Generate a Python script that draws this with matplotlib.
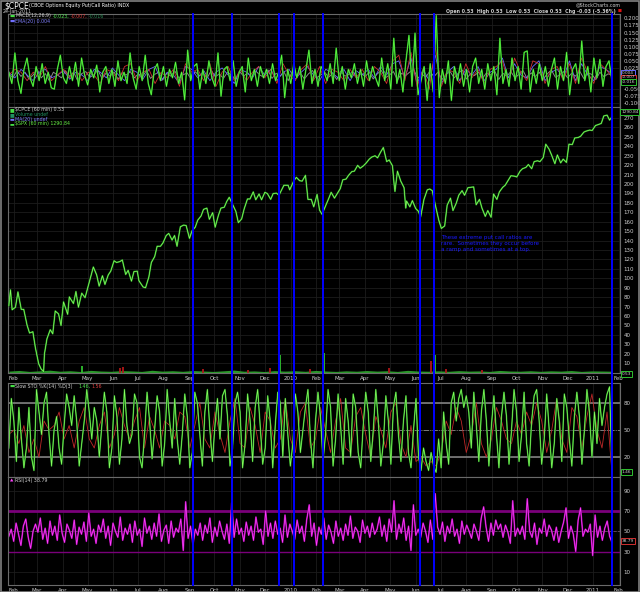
import matplotlib
matplotlib.use("Agg")
import matplotlib.pyplot as plt
import matplotlib.dates as mdates
import matplotlib.ticker as mticker
import matplotlib.transforms as mtransforms
from matplotlib.lines import Line2D
import pandas as pd

W, H = 640, 592

# ---------------- data ----------------
spx_dates = ['2009-01-26', '2009-01-28', '2009-01-30', '2009-02-03', '2009-02-06', '2009-02-10', '2009-02-13',
             '2009-02-17', '2009-02-20', '2009-02-24', '2009-02-27', '2009-03-03', '2009-03-06', '2009-03-09',
             '2009-03-10', '2009-03-13', '2009-03-17', '2009-03-20', '2009-03-23', '2009-03-27', '2009-03-30',
             '2009-04-02', '2009-04-07', '2009-04-09', '2009-04-14', '2009-04-17', '2009-04-20', '2009-04-24',
             '2009-04-28', '2009-05-01', '2009-05-05', '2009-05-08', '2009-05-12', '2009-05-15', '2009-05-19',
             '2009-05-22', '2009-05-26', '2009-05-29', '2009-06-02', '2009-06-05', '2009-06-09', '2009-06-12',
             '2009-06-16', '2009-06-19', '2009-06-23', '2009-06-26', '2009-06-30', '2009-07-02', '2009-07-07',
             '2009-07-10', '2009-07-14', '2009-07-17', '2009-07-21', '2009-07-24', '2009-07-28', '2009-07-31',
             '2009-08-04', '2009-08-07', '2009-08-11', '2009-08-14', '2009-08-17', '2009-08-21', '2009-08-25',
             '2009-08-28', '2009-09-01', '2009-09-04', '2009-09-08', '2009-09-11', '2009-09-15', '2009-09-18',
             '2009-09-22', '2009-09-25', '2009-09-29', '2009-10-02', '2009-10-06', '2009-10-09', '2009-10-13',
             '2009-10-16', '2009-10-19', '2009-10-23', '2009-10-27', '2009-10-30', '2009-11-03', '2009-11-06',
             '2009-11-10', '2009-11-13', '2009-11-17', '2009-11-20', '2009-11-24', '2009-11-27', '2009-12-01',
             '2009-12-04', '2009-12-08', '2009-12-11', '2009-12-15', '2009-12-18', '2009-12-22', '2009-12-24',
             '2009-12-29', '2009-12-31', '2010-01-05', '2010-01-08', '2010-01-12', '2010-01-15', '2010-01-19',
             '2010-01-22', '2010-01-26', '2010-01-29', '2010-02-02', '2010-02-05', '2010-02-08', '2010-02-12',
             '2010-02-16', '2010-02-19', '2010-02-23', '2010-02-26', '2010-03-02', '2010-03-05', '2010-03-09',
             '2010-03-12', '2010-03-16', '2010-03-19', '2010-03-23', '2010-03-26', '2010-03-30', '2010-04-02',
             '2010-04-06', '2010-04-09', '2010-04-13', '2010-04-16', '2010-04-20', '2010-04-23', '2010-04-27',
             '2010-04-30', '2010-05-04', '2010-05-06', '2010-05-07', '2010-05-10', '2010-05-14', '2010-05-18',
             '2010-05-20', '2010-05-21', '2010-05-25', '2010-05-28', '2010-06-01', '2010-06-04', '2010-06-07',
             '2010-06-11', '2010-06-15', '2010-06-18', '2010-06-21', '2010-06-25', '2010-06-29', '2010-07-02',
             '2010-07-06', '2010-07-09', '2010-07-13', '2010-07-16', '2010-07-20', '2010-07-23', '2010-07-27',
             '2010-07-30', '2010-08-03', '2010-08-06', '2010-08-10', '2010-08-13', '2010-08-17', '2010-08-20',
             '2010-08-24', '2010-08-27', '2010-08-31', '2010-09-03', '2010-09-07', '2010-09-10', '2010-09-14',
             '2010-09-17', '2010-09-21', '2010-09-24', '2010-09-28', '2010-10-01', '2010-10-05', '2010-10-08',
             '2010-10-12', '2010-10-15', '2010-10-19', '2010-10-22', '2010-10-26', '2010-10-29', '2010-11-02',
             '2010-11-05', '2010-11-09', '2010-11-12', '2010-11-16', '2010-11-19', '2010-11-23', '2010-11-26',
             '2010-11-30', '2010-12-03', '2010-12-07', '2010-12-10', '2010-12-14', '2010-12-17', '2010-12-21',
             '2010-12-23', '2010-12-28', '2010-12-31', '2011-01-04', '2011-01-07', '2011-01-11', '2011-01-14',
             '2011-01-18', '2011-01-21', '2011-01-24']
spx_close = [836, 874, 826, 832, 869, 827, 827, 789, 770, 773, 735, 696, 683, 677,
             720, 756, 778, 768, 823, 816, 788, 845, 815, 857, 841, 870, 832, 866,
             855, 877, 906, 929, 910, 883, 908, 887, 910, 919, 944, 940, 942, 946,
             911, 921, 895, 918, 919, 896, 881, 879, 905, 940, 954, 979, 979, 987,
             1005, 1010, 994, 1005, 979, 1026, 1030, 1029, 998, 1016, 1025, 1042, 1052, 1068,
             1071, 1044, 1060, 1025, 1054, 1071, 1073, 1087, 1097, 1080, 1063, 1036, 1045, 1069,
             1093, 1093, 1110, 1091, 1105, 1091, 1109, 1106, 1092, 1106, 1107, 1102, 1118, 1126,
             1126, 1115, 1137, 1145, 1137, 1136, 1150, 1092, 1092, 1074, 1104, 1066, 1056, 1075,
             1094, 1109, 1095, 1105, 1118, 1139, 1141, 1150, 1159, 1160, 1174, 1167, 1173, 1179,
             1189, 1194, 1197, 1192, 1207, 1217, 1183, 1187, 1173, 1128, 1111, 1160, 1136, 1120,
             1071, 1088, 1074, 1089, 1070, 1064, 1050, 1092, 1115, 1117, 1113, 1076, 1041, 1022,
             1028, 1078, 1095, 1065, 1083, 1102, 1113, 1102, 1120, 1121, 1122, 1079, 1092, 1071,
             1051, 1065, 1049, 1105, 1092, 1110, 1121, 1126, 1139, 1149, 1148, 1146, 1160, 1166,
             1169, 1176, 1166, 1183, 1185, 1183, 1193, 1225, 1213, 1199, 1178, 1199, 1180, 1189,
             1181, 1225, 1224, 1240, 1241, 1244, 1254, 1256, 1259, 1258, 1270, 1272, 1275, 1293,
             1295, 1283, 1291]

# $CPCE bars at the foot of the price panel (spikes)
cpce_spike_dates = ['2009-04-24', '2009-06-09', '2009-06-13', '2009-09-17', '2009-11-11', '2009-12-07',
                    '2009-12-19', '2010-01-24', '2010-02-10', '2010-04-30', '2010-06-06', '2010-06-19',
                    '2010-06-24', '2010-07-08', '2010-08-20', '2011-01-24']
cpce_spike_vals = [7, 5, 6, 4, 3, 5, 19, 4, 21, 5, 14, 12, 19, 4, 3, 14]
cpce_spike_cols = ['#2fbf2f', '#b01818', '#b01818', '#b01818', '#b01818', '#b01818', '#2fbf2f', '#b01818',
                   '#2fbf2f', '#b01818', '#3a8fd0', '#b01818', '#2fbf2f', '#b01818', '#b01818', '#b020b0']
cpce_base = [1.5, 2.2, 1.2, 1.8, 2.5, 1.4, 1.9, 1.1, 2.3, 1.6, 1.3, 2.0, 1.7, 1.2, 2.4, 1.5, 1.9, 1.3,
             2.1, 1.6, 1.2, 1.8, 2.6, 1.4, 1.7, 1.1, 2.0, 1.5, 1.9, 1.3, 2.2, 1.6, 1.2, 1.8, 1.4, 2.1,
             1.5, 1.9, 1.2, 2.3, 1.6, 1.4, 1.8, 1.3, 2.0, 1.5, 1.7, 1.2, 2.2, 1.6, 1.4, 1.9, 1.3, 1.8,
             1.5, 2.1, 1.2, 1.7, 1.6, 1.4]

macd_line = [0.01, -0.03, 0.078, -0.02, -0.065, 0.02, 0.06, -0.01, -0.04, 0.03,
             -0.02, 0.04, -0.03, 0.01, -0.045, -0.05, 0.02, 0.07, -0.01, -0.03,
             0.03, -0.02, 0.045, -0.04, 0.06, 0.0, -0.035, 0.02, -0.01, 0.035,
             -0.06, 0.01, 0.03, -0.03, 0.02, -0.04, 0.05, -0.02, 0.01, -0.03,
             0.078, -0.01, -0.05, 0.03, -0.02, 0.07, -0.03, -0.07, 0.02, 0.04,
             -0.02, 0.03, -0.04, 0.02, -0.01, 0.045, -0.03, 0.01, -0.088, 0.088,
             -0.02, 0.03, 0.04, -0.05, 0.02, -0.03, 0.05, -0.01, -0.04, 0.078,
             -0.075, 0.02, 0.03, -0.02, 0.05, -0.04, 0.01, 0.03, -0.06, 0.06,
             -0.02, 0.02, -0.04, 0.03, -0.01, 0.02, -0.03, 0.04, -0.02, 0.01,
             0.07, -0.08, 0.02, -0.03, 0.04, -0.01, 0.03, -0.05, 0.02, 0.088,
             -0.03, 0.02, -0.04, 0.03, 0.01, -0.02, 0.04, -0.03, 0.095, -0.02,
             0.03, -0.05, 0.02, -0.01, 0.04, -0.03, 0.02, -0.04, 0.05, -0.02,
             0.03, -0.01, -0.04, 0.06, -0.02, 0.04, -0.05, 0.13, -0.03, 0.02,
             -0.06, 0.05, 0.14, -0.04, 0.148, -0.07, -0.02, 0.03, -0.09, 0.04,
             -0.06, 0.21, -0.08, 0.02, -0.03, 0.05, -0.09, 0.03, -0.02, 0.04,
             -0.04, 0.02, -0.06, 0.03, 0.06, -0.03, 0.02, -0.05, 0.04, -0.02,
             0.03, -0.07, 0.13, -0.03, 0.02, -0.04, 0.06, -0.02, 0.03, -0.05,
             0.08, 0.085, -0.06, 0.02, -0.03, 0.04, -0.02, 0.03, -0.04, 0.02,
             0.06, -0.05, 0.03, -0.02, 0.08, -0.07, 0.02, 0.04, -0.03, 0.12,
             -0.02, 0.03, -0.06, 0.06, -0.01, 0.055, -0.04, 0.03, 0.05, -0.023]
macd_signal = [0.0, 0.02, 0.01, -0.02, 0.01, -0.01, 0.03, -0.02, 0.0, 0.02,
               -0.01, 0.02, -0.02, 0.01, 0.0, -0.03, 0.02, 0.01, -0.02, 0.03,
               0.04, -0.02, 0.01, 0.02, -0.03, 0.01, -0.01, 0.02, -0.04, 0.04,
               0.01, 0.02, -0.02, 0.04, -0.04, 0.01, 0.03, -0.02, 0.02, -0.02,
               0.01, 0.03, -0.01, 0.02, -0.03, 0.04, 0.0, -0.02, 0.02, 0.04,
               -0.02, 0.03, -0.03, 0.02, 0.01, -0.02, 0.02, -0.01, 0.02, -0.02,
               0.03, 0.01, -0.03, 0.05, 0.07, -0.02, 0.08, -0.04, 0.02, -0.05,
               0.1, -0.04, 0.02, 0.01, -0.03, 0.04, -0.01, 0.02, -0.03, 0.02,
               0.03, 0.05, -0.03, 0.06, 0.01, -0.02, 0.05, 0.04, -0.03, 0.02,
               0.03, -0.02, 0.04, -0.03, 0.06, 0.01, -0.03, 0.04, 0.02, -0.007]
macd_ema = [0.01, -0.01, 0.02, 0.0, -0.02, 0.01, 0.02, -0.01, 0.0, 0.015,
            -0.015, 0.01, 0.0, -0.02, 0.02, 0.01, -0.01, 0.025, 0.0, -0.02,
            0.02, 0.01, -0.015, 0.02, 0.03, -0.02, 0.01, 0.0, -0.03, 0.03,
            0.02, -0.01, 0.015, -0.02, 0.01, 0.025, 0.0, -0.03, 0.02, 0.01,
            -0.01, 0.03, 0.0, 0.02, -0.02, 0.01, 0.02, -0.015, 0.01, 0.03,
            0.0, -0.02, 0.02, 0.01, -0.01, 0.02, -0.02, 0.015, 0.0, 0.02,
            -0.01, 0.03, 0.0, 0.04, 0.05, -0.01, 0.06, -0.03, 0.02, -0.02,
            0.07, -0.03, 0.01, 0.03, -0.02, 0.02, 0.0, 0.03, -0.02, 0.01,
            0.02, 0.06, -0.01, 0.04, 0.0, -0.01, 0.03, 0.05, -0.02, 0.01,
            0.02, -0.01, 0.05, -0.02, 0.04, 0.0, -0.02, 0.03, 0.02, 0.004]
macd_hist = [0.005, -0.01, 0.015, -0.005, 0.01, -0.015, 0.0, 0.02, -0.01, 0.005,
             -0.02, 0.01, 0.0, -0.01, 0.015, -0.005, 0.01, -0.02, 0.005, 0.012,
             -0.008, 0.0, 0.018, -0.012, 0.006, -0.004, 0.01, -0.015, 0.008, 0.0,
             0.012, -0.01, 0.004, -0.006, 0.016, -0.012, 0.002, 0.01, -0.018, 0.006,
             -0.004, 0.014, -0.01, 0.0, 0.008, -0.014, 0.012, -0.002, 0.006, -0.01,
             0.016, -0.006, 0.004, -0.012, 0.01, 0.0, -0.016, 0.012, -0.004, 0.008,
             -0.01, 0.014, 0.0, -0.008, 0.018, -0.012, 0.006, -0.004, 0.01, -0.02,
             0.012, -0.002, 0.008, -0.014, 0.004, 0.016, -0.01, 0.0, 0.01, -0.008,
             0.006, -0.016, 0.014, -0.004, 0.002, 0.012, -0.012, 0.008, -0.006, 0.01,
             -0.014, 0.004, 0.016, -0.01, 0.0, 0.012, -0.018, 0.006, -0.002, 0.01,
             0.02, -0.012, 0.004, -0.008, 0.014, -0.006, 0.01, -0.016, 0.002, 0.012,
             -0.01, 0.006, 0.018, -0.014, 0.004, -0.002, 0.01, -0.012, 0.008, 0.0,
             0.014, -0.016, 0.006, -0.004, 0.012, -0.01, 0.002, 0.016, -0.012, 0.008,
             -0.006, 0.01, -0.014, 0.004, 0.018, -0.008, 0.0, 0.012, -0.01, 0.006,
             -0.004, 0.014, -0.012, 0.008, 0.002, -0.016, 0.01, -0.006, 0.004, 0.0]

sto_k = [30, 85, 60, 15, 75, 40, 8, 30, 75, 20, 5, 95,
         70, 45, 80, 92, 45, 10, 50, 65, 30, 12, 55, 90,
         75, 55, 88, 60, 10, 35, 60, 95, 70, 40, 75, 60,
         20, 55, 92, 70, 8, 30, 88, 65, 12, 40, 95, 55,
         35, 45, 90, 80, 20, 8, 45, 92, 60, 18, 50, 88,
         70, 10, 35, 95, 60, 30, 85, 40, 12, 45, 90, 65,
         8, 25, 92, 80, 45, 10, 70, 95, 50, 15, 55, 85,
         40, 88, 95, 65, 10, 30, 80, 92, 70, 8, 35, 90,
         60, 15, 75, 95, 55, 12, 30, 88, 60, 8, 55, 92,
         80, 20, 85, 45, 10, 35, 90, 70, 25, 50, 75, 95,
         40, 8, 60, 92, 65, 15, 45, 95, 75, 10, 40, 90,
         55, 12, 85, 60, 20, 90, 75, 25, 8, 55, 92, 70,
         15, 50, 95, 60, 10, 35, 88, 60, 12, 75, 92, 45,
         15, 60, 88, 25, 8, 50, 85, 20, 5, 30, 15, 5,
         25, 10, 3, 40, 8, 70, 35, 12, 80, 92, 60, 85,
         95, 75, 88, 70, 30, 92, 55, 15, 70, 95, 60, 10,
         55, 88, 45, 8, 65, 92, 65, 12, 50, 95, 70, 15,
         45, 92, 35, 10, 60, 88, 95, 60, 12, 40, 90, 50,
         8, 35, 85, 60, 15, 90, 75, 40, 10, 65, 92, 65,
         12, 50, 95, 70, 20, 70, 35, 85, 55, 75, 90, 98, 1.46]
sto_d = [45, 50, 35, 55, 25, 40, 20, 60, 50, 55, 70, 40,
         55, 30, 60, 75, 40, 30, 55, 70, 30, 45, 75, 55,
         40, 60, 75, 30, 65, 50, 30, 60, 55, 40, 70, 65,
         30, 55, 80, 40, 30, 70, 45, 25, 60, 85, 35, 30,
         75, 55, 25, 70, 60, 30, 40, 85, 40, 25, 70, 80,
         30, 40, 75, 50, 25, 60, 85, 30, 25, 65, 75, 45,
         20, 65, 50, 30, 70, 80, 35, 20, 55, 15, 20, 10,
         15, 10, 25, 60, 45, 75, 60, 25, 45, 80, 35, 20,
         40, 75, 60, 40, 35, 60, 45, 70, 55, 80, 60, 25,
         50, 85, 40, 25, 75, 65, 30, 65, 90, 50, 30, 70, 1.56]

rsi = [45, 52, 40, 58, 47, 36, 55, 62, 44, 33,
       50, 57, 49, 63, 42, 53, 38, 60, 46, 55,
       41, 66, 48, 39, 57, 51, 43, 61, 37, 54,
       47, 59, 40, 68, 45, 52, 38, 56, 49, 62,
       43, 55, 36, 58, 50, 44, 64, 41, 53, 47,
       57, 39, 60, 46, 52, 35, 63, 48, 55, 42,
       58, 45, 67, 40, 51, 56, 38, 60, 44, 53,
       49, 62, 31, 79, 43, 55, 37, 52, 46, 58,
       41, 56, 48, 63, 39, 54, 45, 60, 50, 42,
       57, 38, 78, 44, 62, 47, 53, 40, 59, 46,
       55, 41, 64, 49, 52, 37, 70, 45, 58, 43,
       60, 47, 53, 39, 66, 44, 57, 50, 42, 61,
       48, 55, 40, 62, 76, 45, 58, 36, 54, 47,
       63, 42, 56, 49, 38, 60, 45, 53, 41, 57,
       46, 65, 43, 54, 50, 39, 61, 48, 55, 44,
       58, 47, 52, 64, 45, 56, 40, 62, 49, 80,
       42, 57, 48, 63, 41, 55, 31, 76, 46, 52,
       44, 58, 50, 39, 61, 42, 87, 54, 47, 59,
       40, 55, 48, 62, 45, 52, 38, 60, 47, 56,
       50, 43, 57, 50, 41, 63, 74, 54, 40, 58,
       46, 61, 52, 57, 44, 56, 49, 38, 80, 45,
       53, 47, 55, 42, 82, 50, 44, 58, 37, 53,
       48, 62, 45, 56, 51, 41, 54, 39, 50, 59,
       73, 43, 55, 47, 30, 61, 73, 45, 52, 49,
       57, 26, 66, 44, 55, 41, 53, 60, 45, 38.79]

marker_dates = ['2009-09-05', '2009-10-22', '2009-12-18', '2010-01-05', '2010-02-09',
                '2010-06-06', '2010-06-23', '2011-01-24']

month_ticks = pd.date_range('2009-02-01', '2011-02-01', freq='MS')
month_labels = ['2010' if d.year == 2010 and d.month == 1 else
                '2011' if d.year == 2011 and d.month == 1 else d.strftime('%b') for d in month_ticks]

first_day, last_day = '2009-01-26', '2011-01-24'
t0 = mdates.date2num(pd.Timestamp('2009-01-25'))
t1 = mdates.date2num(pd.Timestamp('2011-02-02 14:00'))


def num(dates):
    return mdates.date2num(pd.to_datetime(dates))


def spread(n):
    return mdates.date2num(pd.date_range(first_day, last_day, periods=n))


# ---------------- figure ----------------
plt.rcParams['font.family'] = ['DejaVu Sans']
fig = plt.figure(figsize=(W / 100, H / 100), dpi=100, facecolor='black')

GRID = '#1c1c1c'
TXT = '#cfcfcf'


def panel(y0, y1, ylim, yticks):
    ax = fig.add_axes([8 / W, 1 - y1 / H, 612 / W, (y1 - y0) / H])
    ax.set_facecolor('black')
    for s in ax.spines.values():
        s.set_color('#6a6a6a')
        s.set_linewidth(0.8)
    ax.set_xlim(t0, t1)
    ax.set_ylim(*ylim)
    ax.yaxis.tick_right()
    ax.set_yticks(yticks)
    ax.tick_params(axis='y', length=0, labelsize=4, labelcolor=TXT, pad=2.5)
    ax.set_xticks(mdates.date2num(month_ticks))
    ax.tick_params(axis='x', length=0, labelbottom=False)
    ax.grid(True, color=GRID, lw=0.6)
    ax.set_axisbelow(True)
    return ax


def ftext(x, y, s, color=TXT, size=4, **kw):
    return fig.text(x / W, 1 - y / H, s, color=color, fontsize=size, va='center', **kw)


def vbox(x, y, s, edge):
    ftext(x, y, s, color=TXT, size=3.1,
          bbox=dict(boxstyle='square,pad=0.15', fc='black', ec=edge, lw=0.7))


def two_tone(ax, x, y, dark, light, wd=1.1, wl=0.5):
    ax.plot(x, y, color=dark, lw=wd)
    ax.plot(x, y, color=light, lw=wl)


# MACD panel
ax1 = panel(14, 107, (-0.113, 0.2155),
            [-0.1, -0.075, -0.05, 0.025, 0.05, 0.075, 0.1, 0.125, 0.15, 0.175, 0.2])
ax1.yaxis.set_major_formatter(mticker.FormatStrFormatter('%.3f'))
ax1.plot(spread(len(macd_hist)), macd_hist, color='#8c8c8c', lw=0.7)
ax1.plot(spread(len(macd_ema)), macd_ema, color='#6a6aff', lw=0.6)
ax1.plot(spread(len(macd_signal)), macd_signal, color='#d03030', lw=0.6)
two_tone(ax1, spread(len(macd_line)), macd_line, '#1f9a1f', '#66ff44')

# price panel ($CPCE bars + $SPX overlay)
ax2 = panel(107, 373, (-0.5, 281.6), list(range(10, 280, 10)))
ax2.fill_between(spread(len(cpce_base)), 0, cpce_base, color='#2a9a2a', lw=0)
ax2.vlines(num(cpce_spike_dates), 0, cpce_spike_vals, colors=cpce_spike_cols, lw=1.3)
ax2.set_xticklabels(month_labels)
ax2.tick_params(axis='x', labelbottom=True, labelsize=4, labelcolor=TXT, pad=2)

ax2b = fig.add_axes(ax2.get_position(), sharex=ax2)
ax2b.patch.set_visible(False)
ax2b.axis('off')
ax2b.set_ylim(673.6, 1314.6)
two_tone(ax2b, num(spx_dates), spx_close, '#1d8a1d', '#8aff60', 1.2, 0.5)
ax2.text(mdates.date2num(pd.Timestamp('2010-07-02')), 146,
         'These extreme put call ratios are\nrare.  Sometimes they occur before\na ramp and sometimes at a top.',
         color='#1a1aff', fontsize=4, va='top', ha='left', linespacing=1.25)

# Slow stochastic panel
ax3 = panel(383, 477, (-2.2, 102.2), [20, 50, 80])
ax3.axhline(80, color='#8a8a8a', lw=1.1)
ax3.axhline(20, color='#8a8a8a', lw=1.1)
ax3.axhline(50, color='#8a8a8a', lw=0.6, ls='-.')
ax3.plot(spread(len(sto_d)), sto_d, color='#c02828', lw=0.6)
two_tone(ax3, spread(len(sto_k)), sto_k, '#1d8a1d', '#8aff60')

# RSI panel
ax4 = panel(477, 585, (-3, 103.4), [10, 30, 50, 70, 90])
ax4.axhline(70, color='#7a007a', lw=2)
ax4.axhline(30, color='#7a007a', lw=1)
ax4.axhline(50, color='#6a4a6a', lw=0.6, ls='--')
two_tone(ax4, spread(len(rsi)), rsi, '#9a009a', '#ff44ff', 1.2, 0.5)
ax4.set_xticklabels(month_labels)
ax4.tick_params(axis='x', labelbottom=True, labelsize=4, labelcolor=TXT, pad=2)

# blue marker lines across all panels
blend = mtransforms.blended_transform_factory(ax2.transData, fig.transFigure)
for d in num(marker_dates):
    fig.add_artist(Line2D([d, d], [1 - 14 / H, 1 - 585 / H], transform=blend,
                          color='#0000ff', lw=1.4, zorder=10))

# headers and legends
ftext(4, 6, '$CPCE', color='white', size=5.5)
ftext(29, 6, '(CBOE Options Equity Put/Call Ratio) INDX', color='white', size=3.4)
ftext(3, 12, '24-Jan-2011', color=TXT, size=3.4)
ftext(621, 5, '@StockCharts.com', color=TXT, size=3.4, ha='right')
ftext(616, 11, 'Open 0.53  High 0.53  Low 0.53  Close 0.53  Chg -0.03 (-5.36%)', color=TXT, size=3.4,
      ha='right', fontweight='bold')
ftext(618, 11, '\u25a0', color='#e01010', size=3)

ftext(10, 16, '\u25ac', color='#44dd44', size=4)
ftext(15, 16, 'MACD(12,26,9)', color=TXT, size=3.4)
ftext(53, 16, '-0.023,', color='#55ee55', size=3.4)
ftext(71, 16, '-0.007,', color='#e04040', size=3.4)
ftext(89, 16, '-0.016', color='#2e8b57', size=3.4)
ftext(10, 21, '\u25ac', color='#7070ff', size=4)
ftext(15, 21, 'EMA(20) 0.004', color='#8080ff', size=3.4)

ftext(10, 110, '\u25a0', color='#44dd44', size=3.5)
ftext(15, 110, '$CPCE (60 min) 0.53', color=TXT, size=3.4)
ftext(10, 114.5, '\u25a0', color='#209060', size=3.5)
ftext(15, 114.5, 'Volume undef', color='#209060', size=3.4)
ftext(10, 119, '\u25ac', color='#7070ff', size=3.5)
ftext(15, 119, 'MA(20) undef', color='#8080ff', size=3.4)
ftext(10, 123.5, '\u25ac', color='#44dd44', size=3.5)
ftext(15, 123.5, '$SPX (60 min) 1290.84', color='#66ee44', size=3.4)

ftext(10, 386.5, '\u25ac', color='#44dd44', size=4)
ftext(15, 386.5, 'Slow STO %K(14) %D(3)', color=TXT, size=3.4)
ftext(78, 386.5, '1.46,', color='#55ee55', size=3.4)
ftext(91, 386.5, '1.56', color='#e04040', size=3.4)

ftext(10, 480.5, '\u25b2', color='#ff44ff', size=3.2)
ftext(15, 480.5, 'RSI(14) 38.79', color=TXT, size=3.4)

# last value boxes on the right scale
vbox(622, 73, '0.004', '#6a6aff')
vbox(622, 77.5, '-0.007', '#d03030')
vbox(622, 82, '-0.016', '#2fbf2f')
vbox(621, 112, '1290.84', '#2fbf2f')
vbox(622, 374, '0.53', '#2fbf2f')
vbox(622, 472, '1.46', '#2fbf2f')
vbox(622, 541, '38.79', '#d03030')

# outer frame
fig.add_artist(plt.Rectangle((0.5 / W, 0.5 / H), 1 - 1.5 / W, 1 - 1.5 / H, transform=fig.transFigure,
                             fill=False, ec='#808080', lw=1.2))

fig.savefig('out.png', dpi=100, facecolor='black')
